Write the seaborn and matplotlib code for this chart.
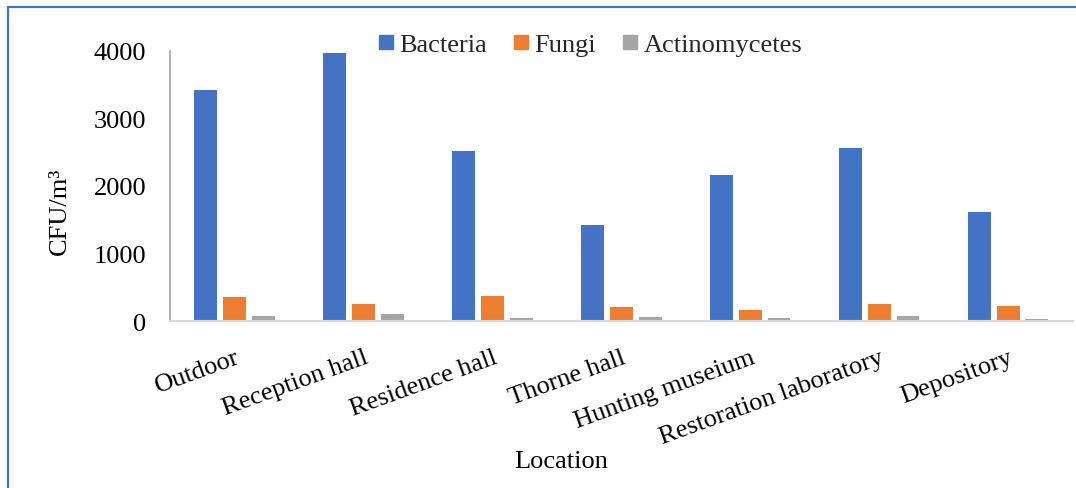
import matplotlib
matplotlib.use("Agg")
import matplotlib.pyplot as plt
from matplotlib.lines import Line2D
import seaborn as sns
import pandas as pd

# Airborne microbial counts per sampling location (CFU/m3)
locations = ["Outdoor", "Reception hall", "Residence hall", "Thorne hall",
             "Hunting museium", "Restoration laboratory", "Depository"]
bacteria = [3427, 3972, 2522, 1420, 2162, 2558, 1613]
fungi = [356, 248, 366, 203, 159, 248, 218]
actinomycetes = [70, 99, 45, 55, 40, 74, 25]
groups = ["Bacteria", "Fungi", "Actinomycetes"]
palette = ["#4472C4", "#ED7D31", "#A5A5A5"]
y_ticks = [0, 1000, 2000, 3000, 4000]

df = pd.DataFrame({
    "Location": locations * 3,
    "Group": [g for g in groups for _ in locations],
    "Count": bacteria + fungi + actinomycetes,
})

sns.set_theme(style="white")
plt.rcParams["font.family"] = ["Liberation Serif", "DejaVu Serif"]

FS = 19

fig = plt.figure(figsize=(10.76, 4.89), dpi=100)
ax = fig.add_axes([0.158, 0.3415, 0.839, 0.5522])

sns.barplot(data=df, x="Location", y="Count", hue="Group", hue_order=groups,
            palette=palette, width=0.667, gap=0.2, saturation=1,
            linewidth=0, errorbar=None, legend=False, ax=ax)

ax.set_ylim(0, 4000)
ax.set_yticks(y_ticks)
ax.set_yticklabels([str(t) for t in y_ticks], fontsize=FS, color="black")
ax.tick_params(axis="y", length=0, pad=17)
ax.tick_params(axis="x", length=0, pad=18)
for lab in ax.get_xticklabels():
    lab.set_rotation(20)
    lab.set_ha("right")
    lab.set_rotation_mode("anchor")
    lab.set_fontsize(FS)
    lab.set_color("black")

for side in ["top", "right"]:
    ax.spines[side].set_visible(False)
ax.spines["left"].set_color("#a6a6a6")
ax.spines["left"].set_linewidth(1.2)
ax.spines["bottom"].set_color("#d9d9d9")
ax.spines["bottom"].set_linewidth(1.5)

ax.set_ylabel("CFU/m³", fontsize=FS, color="black", va="center")
ax.yaxis.set_label_coords(-0.122, 0.41)
ax.set_xlabel("Location", fontsize=FS, color="black", va="center")
ax.xaxis.set_label_coords(0.433, -0.519)

handles = [Line2D([0], [0], marker="s", linestyle="", markersize=10,
                  markerfacecolor=c, markeredgecolor=c) for c in palette]
fig.legend(handles, groups, loc="center", bbox_to_anchor=(590 / 1076, 1 - 45 / 489),
           ncol=3, frameon=False, fontsize=FS, handletextpad=0.2,
           columnspacing=1.0, handlelength=0.6)

# chart frame (top and left edges)
fig.add_artist(Line2D([8 / 1076, 8 / 1076], [0, 1 - 7.5 / 489],
                      color="#4472C4", linewidth=1.6, transform=fig.transFigure))
fig.add_artist(Line2D([8 / 1076, 1], [1 - 7.5 / 489, 1 - 7.5 / 489],
                      color="#4472C4", linewidth=1.6, transform=fig.transFigure))

fig.savefig("out.png", dpi=100)
